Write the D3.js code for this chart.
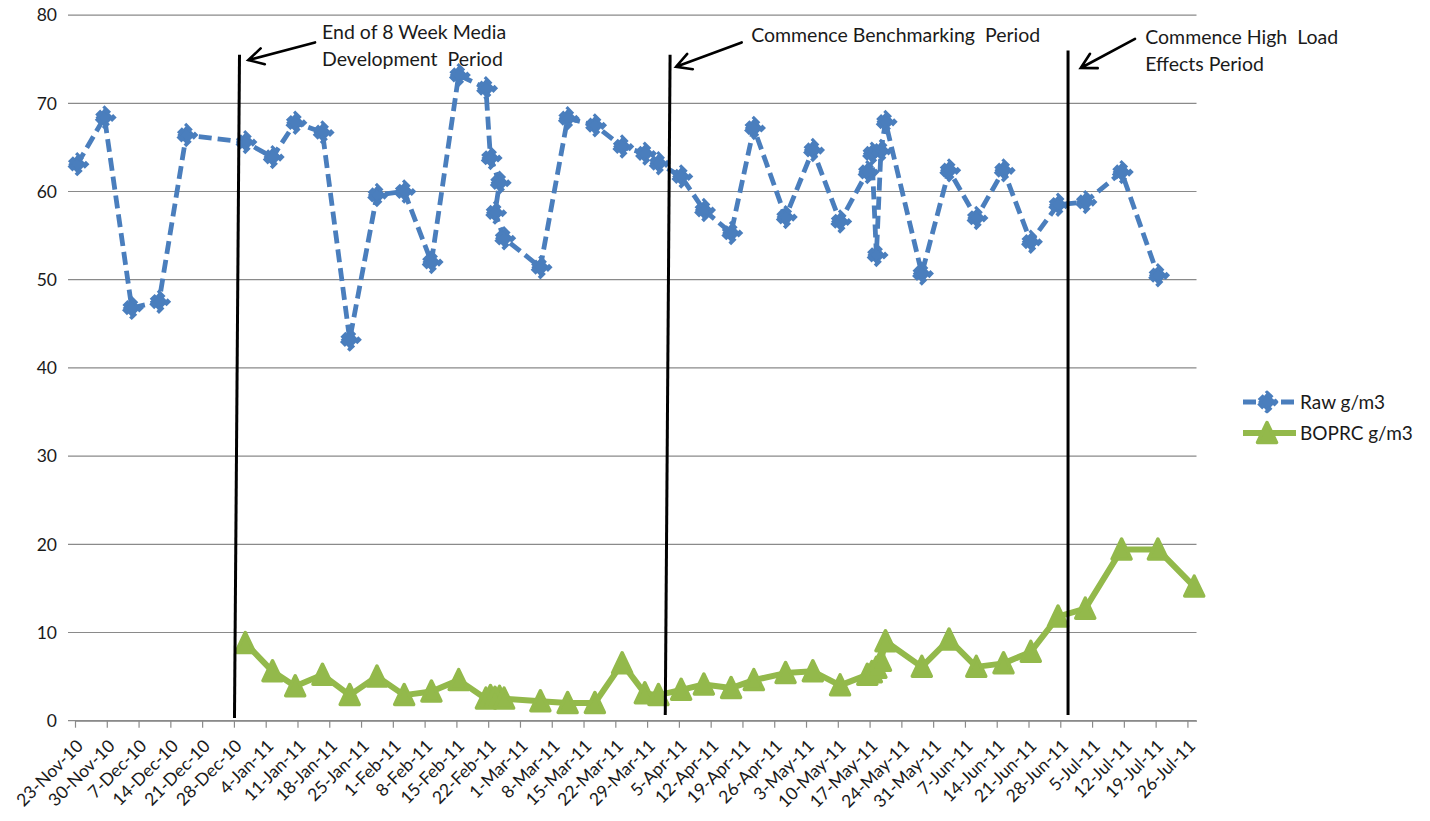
<!DOCTYPE html>
<html>
<head>
<meta charset="utf-8">
<script src="https://cdn.jsdelivr.net/npm/d3@7"></script>
<style>
  html, body { margin: 0; padding: 0; background: #fff; }
  svg { display: block; font-family: Lato, "Open Sans", sans-serif; }
  text { fill: #1a1a1a; white-space: pre; }
</style>
</head>
<body>
<svg id="chart" width="1430" height="821"></svg>
<script>
// ---- data -------------------------------------------------------------
const rawDates = ["2010-11-23","2010-11-29","2010-12-05","2010-12-11","2010-12-17","2010-12-30",
  "2011-01-05","2011-01-10","2011-01-16","2011-01-22","2011-01-28","2011-02-03","2011-02-09",
  "2011-02-15","2011-02-21","2011-02-22","2011-02-24","2011-02-23","2011-02-25","2011-03-05",
  "2011-03-11","2011-03-17","2011-03-23","2011-03-28","2011-03-31","2011-04-05","2011-04-10",
  "2011-04-16","2011-04-21","2011-04-28","2011-05-04","2011-05-10","2011-05-16","2011-05-17",
  "2011-05-18","2011-05-19","2011-05-20","2011-05-28","2011-06-03","2011-06-09","2011-06-15",
  "2011-06-21","2011-06-27","2011-07-03","2011-07-11","2011-07-19"];
const rawValues = [63.1,68.4,46.8,47.5,66.4,65.6,63.9,67.8,66.7,43.2,59.6,60.0,52.0,73.2,71.7,
  63.8,61.0,57.6,54.7,51.4,68.3,67.5,65.1,64.3,63.2,61.7,57.9,55.3,67.2,57.1,64.7,56.6,62.2,
  64.3,52.8,64.6,67.9,50.7,62.4,57.0,62.4,54.3,58.5,58.8,62.2,50.5];

const boprcDates = ["2010-12-30","2011-01-05","2011-01-10","2011-01-16","2011-01-22","2011-01-28",
  "2011-02-03","2011-02-09","2011-02-15","2011-02-21","2011-02-22","2011-02-24","2011-02-23",
  "2011-02-25","2011-03-05","2011-03-11","2011-03-17","2011-03-23","2011-03-28","2011-03-31",
  "2011-04-05","2011-04-10","2011-04-16","2011-04-21","2011-04-28","2011-05-04","2011-05-10",
  "2011-05-16","2011-05-17","2011-05-18","2011-05-19","2011-05-20","2011-05-28","2011-06-03",
  "2011-06-09","2011-06-15","2011-06-21","2011-06-27","2011-07-03","2011-07-11","2011-07-19",
  "2011-07-27"];
const boprcValues = [8.8,5.6,3.9,5.2,2.9,5.0,2.9,3.3,4.6,2.5,2.8,2.7,2.6,2.5,2.2,2.0,2.0,6.5,
  3.1,2.9,3.5,4.1,3.7,4.6,5.4,5.6,4.0,5.2,5.5,6.0,6.8,9.0,6.1,9.2,6.1,6.5,7.8,11.8,12.7,19.4,
  19.4,15.2];

const seriesNames = ["Raw g/m3", "BOPRC g/m3"];

const tickDates = ["2010-11-23","2010-11-30","2010-12-07","2010-12-14","2010-12-21","2010-12-28",
  "2011-01-04","2011-01-11","2011-01-18","2011-01-25","2011-02-01","2011-02-08","2011-02-15",
  "2011-02-22","2011-03-01","2011-03-08","2011-03-15","2011-03-22","2011-03-29","2011-04-05",
  "2011-04-12","2011-04-19","2011-04-26","2011-05-03","2011-05-10","2011-05-17","2011-05-24",
  "2011-05-31","2011-06-07","2011-06-14","2011-06-21","2011-06-28","2011-07-05","2011-07-12",
  "2011-07-19","2011-07-26"];
const yTicks = [0, 10, 20, 30, 40, 50, 60, 70, 80];
const axisStart = "2010-11-23";
const axisEnd = "2011-07-28";

// period boundary lines, arrows and notes (date/time, value)
const periodLines = [
  [["2010-12-29T05:30", 75.5], ["2010-12-28T03:00", 0.3]],
  [["2011-04-03T01:30", 75.5], ["2011-04-02T00:00", 0.65]],
  [["2011-06-29T17:00", 76.0], ["2011-06-29T17:00", 0.65]]
];
const periodArrows = [
  [["2011-01-14T20:40", 76.9], ["2010-12-31T04:00", 74.9]],
  [["2011-04-18T20:00", 76.9], ["2011-04-04T09:00", 74.15]],
  [["2011-07-14T11:00", 77.3], ["2011-07-02T12:00", 74.0]]
];
const periodNotes = [
  [["2011-01-16T10:00", 77.3], ["End of 8 Week Media", "Development  Period"]],
  [["2011-04-20T22:00", 76.9], ["Commence Benchmarking  Period"]],
  [["2011-07-16T17:00", 76.7], ["Commence High  Load", "Effects Period"]]
];

// ---- scales -----------------------------------------------------------
const W = 1430, H = 821;
const plot = { left: 75, right: 1196.5, top: 15.1, bottom: 720.7 };
const blue = "#4a7ebd", green = "#93b94b", grid = "#8a8a8a";

const parseDay = d3.utcParse("%Y-%m-%d");
const parseTime = d3.utcParse("%Y-%m-%dT%H:%M");
const atNoon = s => d3.utcHour.offset(parseDay(s), 12);

const x = d3.scaleUtc().domain([parseDay(axisStart), parseDay(axisEnd)]).range([plot.left, plot.right]);
const y = d3.scaleLinear().domain([0, 80]).range([plot.bottom, plot.top]);
const px = p => [x(parseTime(p[0])), y(p[1])];

const svg = d3.select("#chart");
svg.append("rect").attr("width", W).attr("height", H).attr("fill", "#fff");

// ---- gridlines & y labels --------------------------------------------
const gy = svg.append("g");
gy.selectAll("line").data(yTicks).join("line")
  .attr("x1", plot.left - 7).attr("x2", plot.right)
  .attr("y1", d => y(d)).attr("y2", d => y(d))
  .attr("stroke", grid).attr("stroke-width", 1.2);
gy.selectAll("text").data(yTicks).join("text")
  .attr("x", 57).attr("y", d => y(d)).attr("dy", "0.36em")
  .attr("text-anchor", "end").attr("font-size", 17.5)
  .text(d => d);

// ---- x axis ------------------------------------------------------------
const fmt = d3.utcFormat("%-d-%b-%y");
const xAxis = d3.axisBottom(x)
  .tickValues(tickDates.map(parseDay))
  .tickFormat(fmt).tickSize(7).tickSizeOuter(0);
const gx = svg.append("g").attr("transform", `translate(0,${plot.bottom})`).call(xAxis);
gx.select(".domain").attr("stroke", grid).attr("stroke-width", 1.2);
gx.selectAll(".tick line").attr("stroke", grid).attr("stroke-width", 1.2);
gx.selectAll(".tick text")
  .attr("font-family", "Lato, 'Open Sans', sans-serif")
  .attr("font-size", 17.5).attr("fill", "#1a1a1a")
  .attr("text-anchor", "end")
  .attr("x", -12.6).attr("y", 18.6).attr("dy", "0.35em")
  .attr("transform", "rotate(-45)");

// ---- series ------------------------------------------------------------
const rawData = rawDates.map((d, i) => ({ t: atNoon(d), v: rawValues[i] }));
const boprcData = boprcDates.map((d, i) => ({ t: atNoon(d), v: boprcValues[i] }));
const line = d3.line().x(d => x(d.t)).y(d => y(d.v));

const diamond = r => `M0,${-r}L${r},0L0,${r}L${-r},0Z`;
const triangle = (w, h) => `M0,${-h}L${w},${h * 0.9}L${-w},${h * 0.9}Z`;

// BOPRC (solid green, triangles)
svg.append("path").datum(boprcData)
  .attr("d", line).attr("fill", "none")
  .attr("stroke", green).attr("stroke-width", 6).attr("stroke-linejoin", "round");
svg.append("g").selectAll("path").data(boprcData).join("path")
  .attr("transform", d => `translate(${x(d.t)},${y(d.v)})`)
  .attr("d", triangle(9.5, 10.5))
  .attr("fill", green).attr("stroke", green).attr("stroke-width", 3.5)
  .attr("stroke-linejoin", "round");

// Raw (dashed blue, diamonds with dashed outline)
svg.append("path").datum(rawData)
  .attr("d", line).attr("fill", "none")
  .attr("stroke", blue).attr("stroke-width", 4.8)
  .attr("stroke-dasharray", "13,6").attr("stroke-linejoin", "round");
svg.append("g").selectAll("path").data(rawData).join("path")
  .attr("transform", d => `translate(${x(d.t)},${y(d.v)})`)
  .attr("d", diamond(9))
  .attr("fill", blue).attr("stroke", blue).attr("stroke-width", 4.5)
  .attr("stroke-dasharray", "7,3");

// ---- period markers ----------------------------------------------------
const ann = svg.append("g");
periodLines.forEach(([a, b]) => {
  const [x1, y1] = px(a), [x2, y2] = px(b);
  ann.append("line").attr("x1", x1).attr("y1", y1).attr("x2", x2).attr("y2", y2)
    .attr("stroke", "#000").attr("stroke-width", 3);
});
periodArrows.forEach(([tail, tip]) => {
  const [x1, y1] = px(tail), [x2, y2] = px(tip);
  const ang = Math.atan2(y1 - y2, x1 - x2), len = 17, spread = 0.5;
  const b1 = [x2 + len * Math.cos(ang + spread), y2 + len * Math.sin(ang + spread)];
  const b2 = [x2 + len * Math.cos(ang - spread), y2 + len * Math.sin(ang - spread)];
  ann.append("path")
    .attr("d", `M${x1},${y1}L${x2},${y2}M${b1[0]},${b1[1]}L${x2},${y2}L${b2[0]},${b2[1]}`)
    .attr("fill", "none").attr("stroke", "#000").attr("stroke-width", 2.6)
    .attr("stroke-linecap", "round").attr("stroke-linejoin", "miter");
});
periodNotes.forEach(([pos, lines]) => {
  const [tx, ty] = px(pos);
  const t = ann.append("text").attr("x", tx).attr("y", ty).attr("font-size", 19.5);
  lines.forEach((s, i) => t.append("tspan").attr("x", tx).attr("dy", i ? 27 : 0).text(s));
});

// ---- legend ------------------------------------------------------------
const legend = svg.append("g").attr("transform", "translate(1243,0)");
const leg = [
  { name: seriesNames[0], color: blue, y: 402, raw: true },
  { name: seriesNames[1], color: green, y: 433, raw: false }
];
leg.forEach(e => {
  const g = legend.append("g").attr("transform", `translate(0,${e.y})`);
  g.append("line").attr("x1", 0).attr("x2", 53).attr("y1", 0).attr("y2", 0)
    .attr("stroke", e.color).attr("stroke-width", e.raw ? 4.8 : 6)
    .attr("stroke-dasharray", e.raw ? "13,6" : null);
  g.append("path").attr("transform", "translate(24,0)")
    .attr("d", e.raw ? diamond(9) : triangle(9.5, 10.5))
    .attr("fill", e.color).attr("stroke", e.color)
    .attr("stroke-width", e.raw ? 4.5 : 3.5)
    .attr("stroke-dasharray", e.raw ? "7,3" : null)
    .attr("stroke-linejoin", "round");
  g.append("text").attr("x", 57).attr("y", 0).attr("dy", "0.36em")
    .attr("font-size", 19).text(e.name);
});
</script>
</body>
</html>
